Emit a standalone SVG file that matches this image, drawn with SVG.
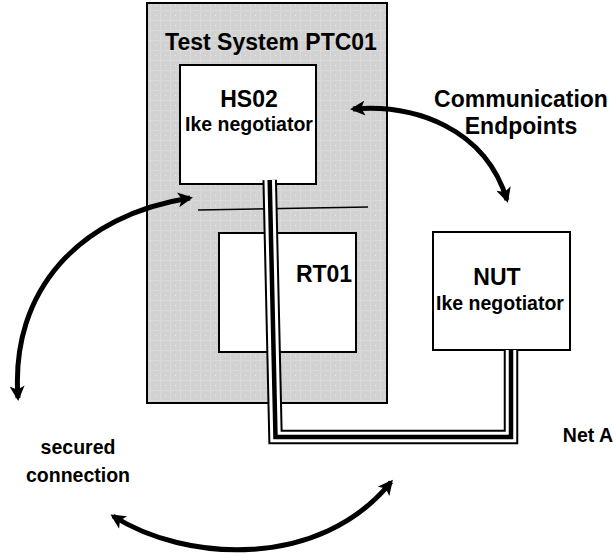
<svg xmlns="http://www.w3.org/2000/svg" width="616" height="553" viewBox="0 0 616 553">
<style>
.lbl{font-family:"Liberation Sans",Arial,sans-serif;font-weight:bold;fill:#000;text-anchor:middle}
.big{font-size:23px}
.sub{font-size:19.5px}
.box{fill:#fff;stroke:#000;stroke-width:2}
.arc{fill:none;stroke:#000;stroke-width:5;stroke-linecap:butt}
.t1{fill:none;stroke:#000;stroke-width:14.5}
.t2{fill:none;stroke:#fff;stroke-width:10.5}
.t3{fill:none;stroke:#000;stroke-width:4.5}
</style>
<defs>
<pattern id="dots" width="10" height="10" patternUnits="userSpaceOnUse">
<rect width="10" height="10" fill="#d2d2d2"/>
<rect x="0" y="0" width="10" height="1" fill="#dadada"/>
<rect x="0" y="0" width="1" height="10" fill="#dadada"/>
<rect x="5" y="5" width="1" height="1" fill="#ececec"/>
</pattern>
<marker id="ah" viewBox="0 0 10 10" refX="8" refY="5" markerWidth="3.2" markerHeight="3" orient="auto-start-reverse" markerUnits="strokeWidth">
<path d="M0,0 L10,5 L0,10 L2.5,5 Z" fill="#000"/>
</marker>
</defs>

<g id="test-system">
<rect x="147" y="3" width="240" height="400" fill="url(#dots)" stroke="#000" stroke-width="2"/>
<text class="lbl big" x="271" y="50">Test System PTC01</text>
</g>

<g id="hs02">
<rect class="box" x="180" y="65" width="136" height="119"/>
<text class="lbl big" x="249" y="107">HS02</text>
<text class="lbl sub" x="249" y="131">Ike negotiator</text>
</g>

<g id="rt01">
<rect class="box" x="219" y="233" width="137" height="119"/>
<text class="lbl big" x="324" y="282">RT01</text>
</g>

<g id="nut">
<rect class="box" x="433" y="232" width="137" height="118"/>
<text class="lbl big" x="497" y="285">NUT</text>
<text class="lbl sub" x="500" y="310">Ike negotiator</text>
</g>

<g id="labels">
<text class="lbl big" x="521" y="107">Communication</text>
<text class="lbl big" x="521" y="134">Endpoints</text>
<text class="lbl sub" x="78" y="454">secured</text>
<text class="lbl sub" x="78" y="482">connection</text>
<text class="lbl sub" x="613" y="442" style="text-anchor:end">Net A</text>
</g>

<g id="connectors">
<line x1="198" y1="210" x2="368" y2="207" stroke="#000" stroke-width="1.6"/>
<g id="net-a">
<path class="t1" d="M269.7,180 L275.5,437 L511,437 L511,350"/>
<path class="t2" d="M269.7,180 L275.5,437 L511,437 L511,350"/>
<path class="t3" d="M269.7,180 L275.5,437 L511,437 L511,350"/>
</g>
<path class="arc" marker-start="url(#ah)" marker-end="url(#ah)" d="M353,109 C415,104 485,128 507,200"/>
<path class="arc" marker-start="url(#ah)" marker-end="url(#ah)" d="M18,398 C10,290 80,215 190,198"/>
<path class="arc" marker-start="url(#ah)" marker-end="url(#ah)" d="M113,516 C185,562 320,570 391,482"/>
</g>
</svg>
